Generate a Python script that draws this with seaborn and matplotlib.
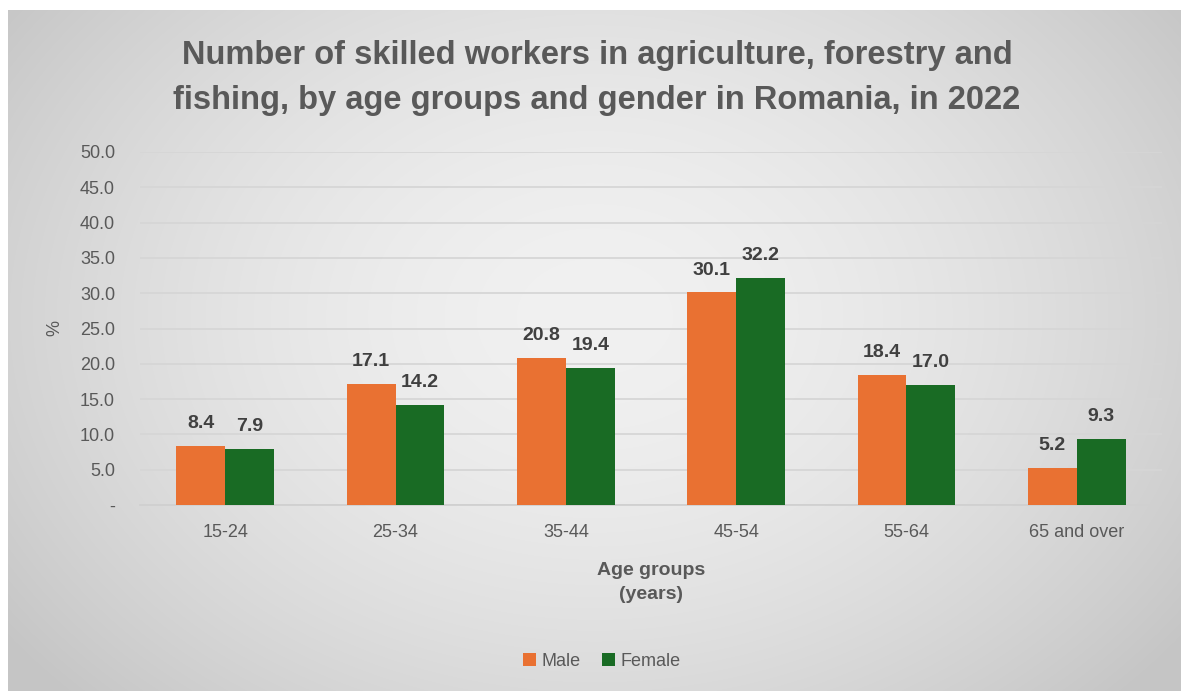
import numpy as np
import pandas as pd
import matplotlib
matplotlib.use("Agg")
import matplotlib.pyplot as plt
import seaborn as sns

# Data
age_groups = ["15-24", "25-34", "35-44", "45-54", "55-64", "65 and over"]
male = [8.4, 17.1, 20.8, 30.1, 18.4, 5.2]
female = [7.9, 14.2, 19.4, 32.2, 17.0, 9.3]
y_ticks = [0, 5, 10, 15, 20, 25, 30, 35, 40, 45, 50]

df = pd.DataFrame({
    "Age group": age_groups * 2,
    "Value": male + female,
    "Gender": ["Male"] * len(male) + ["Female"] * len(female),
})

sns.set_theme(style="white")
plt.rcParams["font.family"] = ["Liberation Sans", "DejaVu Sans"]

W, H = 1181, 691
fig = plt.figure(figsize=(W / 100, H / 100), dpi=100)
fig.patch.set_facecolor("white")

# Radial gradient chart-area background
bg = fig.add_axes([8 / W, 0, (W - 8) / W, (H - 10) / H])
bw, bh = W - 8, H - 10
yy, xx = np.mgrid[0:bh, 0:bw]
cx, cy = 0.50 * bw, 0.45 * bh
r = np.sqrt(((xx - cx) / (0.62 * bw)) ** 2 + ((yy - cy) / (0.80 * bh)) ** 2)
r = np.clip(r, 0, 1)
inner, outer = 0.945, 0.775
shade = inner + (outer - inner) * r ** 1.7
bg.imshow(np.dstack([shade] * 3), aspect="auto", interpolation="bilinear")
bg.set_axis_off()

colors = {"Male": "#E97132", "Female": "#196B24"}
ax = fig.add_axes([140 / W, (H - 505) / H, (1162 - 140) / W, (505 - 152) / H])
ax.patch.set_alpha(0)
sns.barplot(data=df, x="Age group", y="Value", hue="Gender", palette=colors,
            width=0.575, gap=0, saturation=1, ax=ax, legend=True, zorder=3,
            linewidth=0)

ax.set_ylim(0, 50)
ax.set_yticks(y_ticks)
ax.set_yticklabels(["-"] + [f"{v:.1f}" for v in y_ticks[1:]])
ax.set_xlim(-0.5, len(age_groups) - 0.5)
ax.grid(axis="y", color="#d6d6d6", linewidth=1.3, zorder=0)
ax.set_axisbelow(True)
for s in ["top", "right", "left"]:
    ax.spines[s].set_visible(False)
ax.spines["bottom"].set_color("#d0d0d0")
ax.spines["bottom"].set_linewidth(1.3)
ax.tick_params(axis="y", length=0, pad=18, labelsize=13, labelcolor="#595959")
ax.tick_params(axis="x", length=0, pad=14, labelsize=13, labelcolor="#595959")

ax.set_ylabel("%", fontsize=13, color="#595959", labelpad=12)
ax.set_xlabel("Age groups\n(years)", fontsize=14, fontweight="bold",
              color="#595959", labelpad=15, linespacing=1.55)

# Value labels above each bar
for cont in ax.containers:
    ax.bar_label(cont, fmt="%.1f", padding=10, fontsize=14, fontweight="bold",
                 color="#404040")

# Legend below the axis
handles, labels = ax.get_legend_handles_labels()
ax.legend_.remove()
fig.legend(handles, labels, loc="center", bbox_to_anchor=(602 / W, (H - 661) / H),
           ncol=2, frameon=False, fontsize=13, labelcolor="#595959",
           handlelength=0.7, handleheight=0.7, handletextpad=0.3,
           columnspacing=1.2)

# Two-line title
title_kw = dict(ha="center", va="baseline", fontsize=23.5, fontweight="bold",
                color="#595959")
fig.text(597 / W, (H - 64) / H,
         "Number of skilled workers in agriculture, forestry and", **title_kw)
fig.text(597 / W, (H - 109) / H,
         "fishing, by age groups and gender in Romania, in 2022", **title_kw)

fig.savefig("out.png", dpi=100, facecolor="white")
